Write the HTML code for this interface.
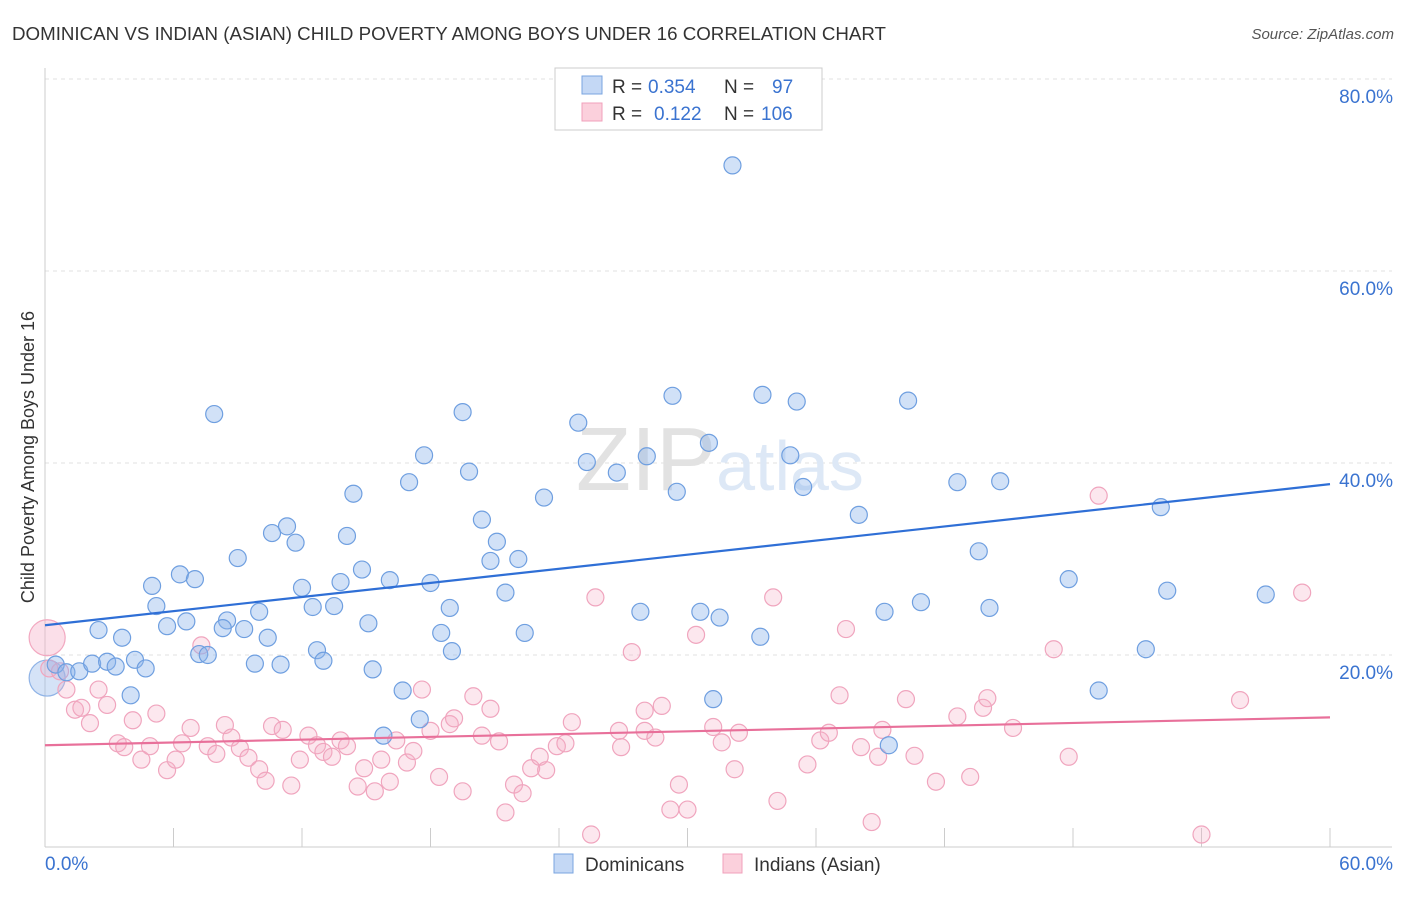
<!DOCTYPE html>
<html><head><meta charset="utf-8"><style>
body{margin:0;background:#fff;font-family:"Liberation Sans",sans-serif;}
svg text{font-family:"Liberation Sans",sans-serif;}
</style></head><body>
<svg width="1406" height="892">
<text x="12" y="40" font-size="18" fill="#333" textLength="874" lengthAdjust="spacingAndGlyphs">DOMINICAN VS INDIAN (ASIAN) CHILD POVERTY AMONG BOYS UNDER 16 CORRELATION CHART</text>
<text x="1394" y="39" font-size="15" fill="#555" font-style="italic" text-anchor="end">Source: ZipAtlas.com</text>
<g id="grid"></g>
<text x="720" y="490" font-size="90" fill="#e8e8e8" text-anchor="middle" font-family="Liberation Serif"><tspan fill="#e2e2e2">ZIP</tspan><tspan fill="#dde8f6" font-family="Liberation Sans" font-size="70">atlas</tspan></text>
<text transform="translate(34,457) rotate(-90)" font-size="18" fill="#333" text-anchor="middle">Child Poverty Among Boys Under 16</text>
<g id="pts"></g>
<g id="lines"></g>
<g>
<rect x="555" y="68" width="267" height="62" fill="#fff" stroke="#ccc"/>
<rect x="582" y="76" width="20" height="18" fill="#c4d8f5" stroke="#7aa5e0"/>
<rect x="582" y="103" width="20" height="18" fill="#fbd0dc" stroke="#f0a0bb"/>
<text x="612" y="93" font-size="19" fill="#333">R =</text>
<text x="648" y="93" font-size="19" fill="#3a73d0">0.354</text>
<text x="724" y="93" font-size="19" fill="#333">N =</text>
<text x="772" y="93" font-size="19" fill="#3a73d0">97</text>
<text x="612" y="120" font-size="19" fill="#333">R =</text>
<text x="654" y="120" font-size="19" fill="#3a73d0">0.122</text>
<text x="724" y="120" font-size="19" fill="#333">N =</text>
<text x="761" y="120" font-size="19" fill="#3a73d0">106</text>
</g>
<g>
<rect x="554" y="854" width="19" height="19" fill="#c4d8f5" stroke="#7aa5e0"/>
<text x="585" y="871" font-size="19" fill="#333">Dominicans</text>
<rect x="723" y="854" width="19" height="19" fill="#fbd0dc" stroke="#f0a0bb"/>
<text x="754" y="871" font-size="19" fill="#333">Indians (Asian)</text>
</g>
</svg>
<script>
const yTicks=[20,40,60,80];
const xTickLabels=["0.0%","60.0%"];
const blueX=[32.1,7.9,19.5,29.3,33.5,35.1,40.3,24.9,31.0,17.7,25.3,28.1,19.8,26.7,17.0,34.8,14.4,23.3,29.5,35.4,42.6,44.6,52.1,38.0,20.4,11.3,10.6,11.7,14.1,21.1,9.0,20.8,22.1,43.6,5.0,6.3,7.0,12.0,13.8,14.8,16.1,18.0,5.2,6.6,5.7,8.5,10.0,12.5,13.5,18.9,21.5,27.8,30.6,31.5,39.2,40.9,44.1,47.8,52.4,57.0,2.5,3.6,8.3,9.3,10.4,15.1,18.5,22.4,33.4,7.2,7.6,12.7,13.0,19.0,51.4,0.5,1.0,1.6,2.2,2.9,3.3,4.2,4.7,9.8,11.0,15.3,4.0,16.7,17.5,15.8,31.2,39.4,49.2];
const blueY=[71.0,45.1,45.3,47.0,47.1,46.4,46.5,44.2,42.1,40.8,40.1,40.7,39.1,39.0,38.0,40.8,36.8,36.4,37.0,37.5,38.0,38.1,35.4,34.6,34.1,33.4,32.7,31.7,32.4,31.8,30.1,29.8,30.0,30.8,27.2,28.4,27.9,27.0,27.6,28.9,27.8,27.5,25.1,23.5,23.0,23.6,24.5,25.0,25.1,24.9,26.5,24.5,24.5,23.9,24.5,25.5,24.9,27.9,26.7,26.3,22.6,21.8,22.8,22.7,21.8,23.3,22.3,22.3,21.9,20.1,20.0,20.5,19.4,20.4,20.6,19.0,18.2,18.3,19.1,19.3,18.8,19.5,18.6,19.1,19.0,18.5,15.8,16.3,13.3,11.6,15.4,10.6,16.3];
const pinkX=[0.2,0.7,1.0,1.4,1.7,2.1,2.5,2.9,3.4,3.7,4.1,4.5,4.9,5.2,5.7,6.1,6.4,6.8,7.3,7.6,8.0,8.4,8.7,9.1,9.5,10.0,10.3,10.6,11.1,11.5,11.9,12.3,12.7,13.0,13.4,13.8,14.1,14.6,14.9,15.4,15.7,16.1,16.4,16.9,17.2,17.6,18.0,18.4,18.9,19.1,19.5,20.0,20.4,20.8,21.2,21.5,21.9,22.3,22.7,23.1,23.4,23.9,24.3,24.6,25.5,25.7,26.8,26.9,27.4,28.0,28.0,28.5,28.8,29.2,29.6,30.0,30.4,31.2,31.6,32.2,32.4,34.0,34.2,35.6,36.2,36.6,37.4,37.1,38.1,38.6,38.9,39.1,40.2,40.6,41.6,42.6,43.2,43.8,44.0,45.2,47.1,47.8,49.2,54.0,55.8,58.7];
const pinkY=[18.6,18.3,16.4,14.3,14.5,12.9,16.4,14.8,10.8,10.4,13.2,9.1,10.5,13.9,8.0,9.1,10.8,12.4,21.0,10.5,9.7,12.7,11.4,10.3,9.3,8.1,6.9,12.6,12.2,6.4,9.1,11.6,10.6,9.9,9.4,11.1,10.5,6.3,8.2,5.8,9.1,6.8,11.1,8.8,10.0,16.4,12.1,7.3,12.8,13.4,5.8,15.7,11.6,14.4,11.0,3.6,6.5,5.6,8.2,9.4,8.0,10.5,10.8,13.0,1.3,26.0,12.1,10.4,20.3,12.1,14.2,11.4,14.7,3.9,6.5,3.9,22.1,12.5,10.9,8.1,11.9,26.0,4.8,8.6,11.1,11.9,22.7,15.8,10.4,2.6,9.4,12.2,15.4,9.5,6.8,13.6,7.3,14.5,15.5,12.4,20.6,9.4,36.6,1.3,15.3,26.5];
const bigBlue=[[0.1,17.6]];
const bigPink=[[0.1,21.8]];
const blueLine=[23.1,37.8];
const pinkLine=[10.6,13.5];
const NS="http://www.w3.org/2000/svg";
const X=v=>45+v*(1285/60);
const Y=v=>847-v*9.6;
function mk(t,a,p){const e=document.createElementNS(NS,t);for(const k in a)e.setAttribute(k,a[k]);p.appendChild(e);return e;}
const g=document.getElementById('grid');
yTicks.forEach(t=>{
 const l=mk('line',{x1:45,x2:1392,y1:Y(t),y2:Y(t),stroke:'#e2e2e2','stroke-dasharray':'4,4'},g);
 
 
 const tx=mk('text',{x:1393,y:Y(t)+24,'font-size':19,fill:'#3a73d0','text-anchor':'end'},g);
 tx.textContent=t.toFixed(1)+'%';
 
 
});
const ax=mk('line',{x1:45,x2:45,y1:68,y2:847,stroke:'#ccc'},g);


const bx=mk('line',{x1:45,x2:1392,y1:847,y2:847,stroke:'#ccc'},g);


for(let i=0;i<=10;i++){const tk=mk('line',{x1:X(i*6),x2:X(i*6),y1:828,y2:847,stroke:'#ccc'},g);
 
 }
const xl0=mk('text',{x:45,y:870,'font-size':19,fill:'#3a73d0'},g);xl0.textContent=xTickLabels[0];


const xl1=mk('text',{x:1393,y:870,'font-size':19,fill:'#3a73d0','text-anchor':'end'},g);xl1.textContent=xTickLabels[1];


const p=document.getElementById('pts');
function dots(xs,ys,fill,st,name,r){xs.forEach((x,i)=>{const c=mk('circle',{cx:X(x),cy:Y(ys[i]),r:r,fill:fill,stroke:st,'stroke-width':1.2},p);
 
 });}
dots(bigBlue.map(d=>d[0]),bigBlue.map(d=>d[1]),'rgba(150,185,235,0.4)','#8fb3e6','dominican-point',18);
dots(bigPink.map(d=>d[0]),bigPink.map(d=>d[1]),'rgba(245,175,200,0.4)','#f2a8c0','indian-point',18);
dots(pinkX,pinkY,'rgba(245,175,200,0.3)','#f0a5be','indian-point',8.5);
dots(blueX,blueY,'rgba(140,180,235,0.4)','#6f9fe0','dominican-point',8.5);
const L=document.getElementById('lines');
const bl=mk('line',{x1:X(0),y1:Y(blueLine[0]),x2:X(60),y2:Y(blueLine[1]),stroke:'#2f6fd6','stroke-width':2.2},L);


const pl=mk('line',{x1:X(0),y1:Y(pinkLine[0]),x2:X(60),y2:Y(pinkLine[1]),stroke:'#e8709a','stroke-width':2.2},L);


</script>
</body></html>
